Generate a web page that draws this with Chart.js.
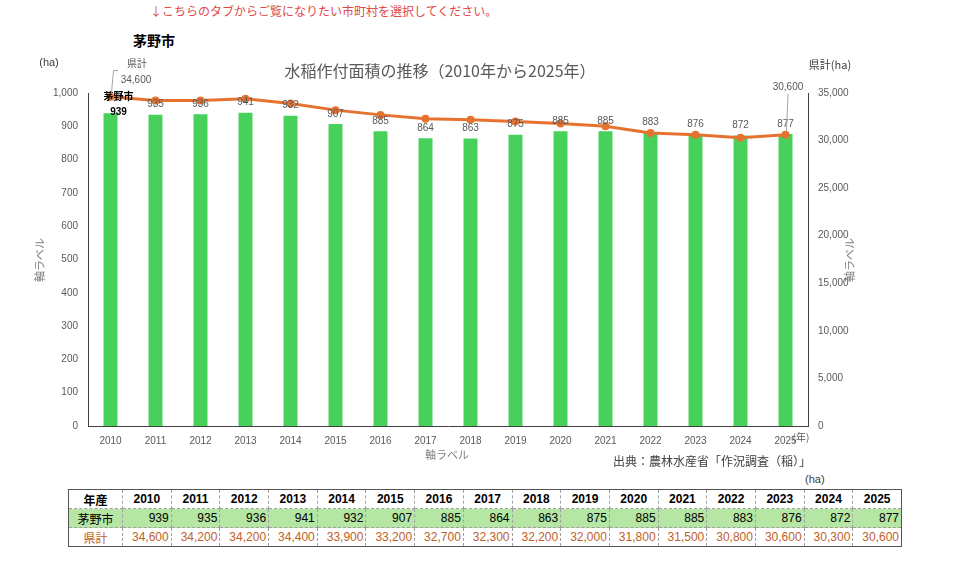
<!DOCTYPE html>
<html lang="ja">
<head>
<meta charset="utf-8">
<script src="https://cdn.jsdelivr.net/npm/chart.js@4.4.1/dist/chart.umd.min.js"></script>
<style>
  body { margin: 0; width: 960px; height: 570px; background: #fff; position: relative; overflow: hidden;
         font-family: "Liberation Sans", "Noto Sans CJK JP", sans-serif; }
  .abs { position: absolute; white-space: nowrap; }
  #wrap { position: absolute; left: 0; top: 0; width: 960px; height: 470px; }
  #tbl { position: absolute; left: 68px; top: 489px; width: 834px; border-collapse: collapse;
         border: 1px solid #555; table-layout: fixed; font-size: 12px; }
  #tbl td { border: 1px dashed #a0a0a0; height: 18px; padding: 0 2px; }
  #tbl tr.head td { font-weight: bold; text-align: center; color: #000; }
  #tbl tr.city td { background: #b5e6a3; text-align: right; color: #000; }
  #tbl tr.pref td { text-align: right; color: #c0602a; }
  #tbl td.name { text-align: center !important; font-family: "Noto Sans CJK JP", sans-serif; }
</style>
</head>
<body>
<div class="abs" style="left:150px;top:2px;font-size:12px;color:#e04848;font-family:'Noto Sans CJK JP';">↓こちらのタブからご覧になりたい市町村を選択してください。</div>
<div class="abs" style="left:133px;top:30px;font-size:14px;font-weight:bold;color:#000;font-family:'Noto Sans CJK JP';">茅野市</div>
<div id="wrap"><canvas id="chart"></canvas></div>
<div class="abs" style="left:805px;top:473px;font-size:11px;color:#404040;">(ha)</div>
<table id="tbl"></table>
<script>
// ---- data ----
const years = ['2010', '2011', '2012', '2013', '2014', '2015', '2016', '2017',
               '2018', '2019', '2020', '2021', '2022', '2023', '2024', '2025'];
const cityArea = [939, 935, 936, 941, 932, 907, 885, 864, 863, 875, 885, 885, 883, 876, 872, 877];
const prefArea = [34600, 34200, 34200, 34400, 33900, 33200, 32700, 32300,
                  32200, 32000, 31800, 31500, 30800, 30600, 30300, 30600];
const leftTicks = [0, 1000, 100];       // min, max, step
const rightTicks = [0, 35000, 5000];

const fmt = v => v.toLocaleString('en-US');
const grey = '#595959';
const numFont = '"Liberation Sans", "Noto Sans CJK JP", sans-serif';
const jpFont = '"Noto Sans CJK JP", sans-serif';

// ---- table ----
const tbl = document.getElementById('tbl');
let html = '<colgroup><col style="width:54px">' + years.map(() => '<col>').join('') + '</colgroup>';
html += '<tr class="head"><td class="name">年産</td>' + years.map(y => '<td>' + y + '</td>').join('') + '</tr>';
html += '<tr class="city"><td class="name">茅野市</td>' + cityArea.map(v => '<td>' + fmt(v) + '</td>').join('') + '</tr>';
html += '<tr class="pref"><td class="name">県計</td>' + prefArea.map(v => '<td>' + fmt(v) + '</td>').join('') + '</tr>';
tbl.innerHTML = html;

// ---- annotations drawn on the canvas ----
const annotate = {
    id: 'annotate',
    afterDatasetsDraw(chart) {
        const ctx = chart.ctx;
        const area = chart.chartArea;
        const bars = chart.getDatasetMeta(0).data;
        const pts = chart.getDatasetMeta(1).data;
        ctx.save();
        ctx.textAlign = 'center';
        ctx.textBaseline = 'middle';

        // bar value labels
        ctx.font = '10px ' + numFont;
        ctx.fillStyle = grey;
        bars.forEach((b, i) => {
            if (i === 0) return;
            ctx.fillText(fmt(cityArea[i]), b.x, b.y - 10);
        });
        // highlighted first bar label
        ctx.font = 'bold 10px ' + jpFont;
        ctx.fillStyle = '#000';
        ctx.fillText('茅野市', bars[0].x + 8, bars[0].y - 17);
        ctx.font = 'bold 10px ' + numFont;
        ctx.fillText(fmt(cityArea[0]), bars[0].x + 8, bars[0].y - 1);

        // prefecture labels with leader lines
        ctx.strokeStyle = '#a6a6a6';
        ctx.lineWidth = 1;
        const p0 = pts[0];
        ctx.beginPath();
        ctx.moveTo(118, 70.5);
        ctx.lineTo(113.5, 70.5);
        ctx.lineTo(p0.x + 1, p0.y - 4);
        ctx.stroke();
        const pl = pts[pts.length - 1];
        ctx.beginPath();
        ctx.moveTo(788, 94);
        ctx.lineTo(pl.x + 1, pl.y - 4);
        ctx.stroke();
        ctx.fillStyle = grey;
        ctx.font = '10px ' + jpFont;
        ctx.fillText('県計', 137, 63);
        ctx.font = '10px ' + numFont;
        ctx.fillText(fmt(prefArea[0]), 136, 80);
        ctx.fillText(fmt(prefArea[prefArea.length - 1]), 788, 87);

        // titles and axis captions
        ctx.font = '16px ' + jpFont;
        ctx.fillStyle = grey;
        ctx.fillText('水稲作付面積の推移（2010年から2025年）', 440, 71);
        ctx.font = '11px ' + numFont;
        ctx.fillStyle = '#404040';
        ctx.fillText('(ha)', 49, 63);
        ctx.font = '11px ' + jpFont;
        ctx.fillText('県計(ha)', 830, 65);
        ctx.font = '10px ' + jpFont;
        ctx.fillStyle = grey;
        ctx.fillText('(年)', 801, 437);

        ctx.font = '11px ' + jpFont;
        ctx.fillStyle = '#808080';
        ctx.fillText('軸ラベル', 447, 455);
        [40, 850].forEach(x => {
            ctx.save();
            ctx.translate(x, 260);
            ctx.rotate(-Math.PI / 2);
            ctx.fillText('軸ラベル', 0, 0);
            ctx.restore();
        });

        ctx.font = '12px ' + jpFont;
        ctx.fillStyle = '#404040';
        ctx.fillText('出典：農林水産省「作況調査（稲）」', 712, 461);
        ctx.restore();
    }
};

new Chart(document.getElementById('chart'), {
    type: 'bar',
    data: {
        labels: years,
        datasets: [
            {
                type: 'bar',
                label: '茅野市',
                data: cityArea,
                backgroundColor: '#48d15a',
                barPercentage: 0.62,
                categoryPercentage: 0.5,
                yAxisID: 'y',
                order: 2
            },
            {
                type: 'line',
                label: '県計',
                data: prefArea,
                borderColor: '#e5732f',
                backgroundColor: '#e5732f',
                borderWidth: 3,
                pointRadius: 4,
                pointBackgroundColor: '#e5732f',
                pointBorderWidth: 0,
                tension: 0,
                yAxisID: 'y1',
                order: 1
            }
        ]
    },
    options: {
        responsive: true,
        maintainAspectRatio: false,
        animation: false,
        layout: { padding: { top: 93, left: 0, right: 0, bottom: 0 } },
        plugins: {
            legend: { display: false },
            tooltip: { enabled: false }
        },
        scales: {
            x: {
                grid: { display: false, drawTicks: false },
                border: { display: true, color: '#404040' },
                ticks: { color: grey, font: { size: 10, family: numFont }, padding: 9, maxRotation: 0 },
                afterFit(s) { s.height = 44; }
            },
            y: {
                position: 'left',
                min: leftTicks[0], max: leftTicks[1],
                grid: { display: false, drawTicks: false },
                border: { display: true, color: '#404040' },
                ticks: { stepSize: leftTicks[2], color: grey, font: { size: 10, family: numFont }, padding: 10,
                         callback: v => fmt(v) },
                afterFit(s) { s.width = 88; }
            },
            y1: {
                position: 'right',
                min: rightTicks[0], max: rightTicks[1],
                grid: { display: false, drawTicks: false },
                border: { display: true, color: '#404040' },
                ticks: { stepSize: rightTicks[2], color: grey, font: { size: 10, family: numFont }, padding: 10,
                         callback: v => fmt(v) },
                afterFit(s) { s.width = 152; }
            }
        }
    },
    plugins: [annotate]
});
</script>
</body>
</html>
